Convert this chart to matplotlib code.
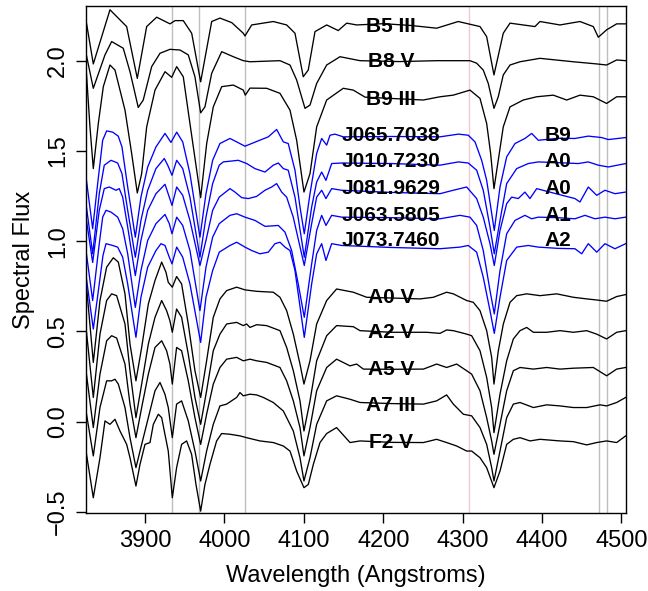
import matplotlib
matplotlib.use("Agg")
import matplotlib.pyplot as plt

plt.rcParams["font.family"] = ["Liberation Sans", "DejaVu Sans"]

# reference line positions (Angstroms)
grey_lines = [3933.7, 3968.5, 4026.2, 4471.5, 4481.2]
pink_line = 4308.0

# ---- standards, top group (black) ----
b5iii_wl = [3825.6, 3834.8, 3855.8, 3876.8, 3890.2, 3902.0, 3914.6, 3931.4, 3937.7, 3948.1, 3958.7, 3970.0,
            3983.9, 3994.3, 4009.1, 4023.7, 4025.8, 4034.3, 4061.5, 4078.3, 4088.8, 4099.2, 4105.5, 4114.0,
            4128.7, 4143.3, 4153.9, 4166.5, 4200.0, 4235.0, 4267.2, 4294.4, 4321.8, 4330.2, 4339.4, 4351.1,
            4359.6, 4391.0, 4397.3, 4422.5, 4447.7, 4464.5, 4470.8, 4481.3, 4493.9, 4505.3]
b5iii_fx = [2.224, 1.982, 2.282, 2.189, 1.902, 2.189, 2.241, 2.204, 2.222, 2.222, 2.152, 1.883,
            2.217, 2.236, 2.211, 2.152, 2.137, 2.198, 2.217, 2.198, 2.152, 1.911, 1.948, 2.161,
            2.198, 2.167, 2.208, 2.198, 2.205, 2.195, 2.18, 2.217, 2.189, 2.133, 1.921, 2.152,
            2.208, 2.189, 2.217, 2.198, 2.217, 2.189, 2.13, 2.171, 2.204, 2.204]

b8v_wl = [3825.6, 3834.8, 3849.5, 3857.9, 3872.5, 3881.0, 3891.4, 3897.7, 3908.3, 3918.8, 3931.4, 3944.0,
          3954.4, 3962.8, 3970.0, 3975.4, 3983.9, 3996.5, 4011.1, 4023.7, 4032.1, 4069.9, 4082.5, 4090.9,
          4101.4, 4107.7, 4116.1, 4128.7, 4145.5, 4170.7, 4220.0, 4267.2, 4309.2, 4317.6, 4325.9, 4332.2,
          4339.4, 4344.8, 4351.1, 4359.6, 4372.1, 4397.3, 4439.3, 4468.8, 4481.3, 4493.9, 4505.3]
b8v_fx = [2.041, 1.847, 2.032, 2.106, 2.069, 1.939, 1.741, 1.782, 1.967, 2.041, 2.063, 2.059,
          2.032, 1.911, 1.711, 1.744, 1.930, 2.050, 2.022, 2.0, 1.994, 2.0, 1.976, 1.893,
          1.736, 1.754, 1.874, 1.976, 2.022, 2.0, 1.995, 2.0, 2.0, 1.986, 1.948, 1.874,
          1.736, 1.8, 1.921, 1.976, 1.994, 2.013, 1.994, 1.982, 1.976, 2.004, 2.0]

b9iii_wl = [3825.6, 3830.6, 3834.8, 3841.1, 3847.4, 3855.8, 3862.1, 3874.7, 3883.1, 3890.2, 3895.7, 3902.0,
            3912.5, 3925.1, 3933.5, 3939.8, 3948.1, 3956.5, 3970.0, 3977.6, 3985.9, 3996.5, 4011.1, 4023.7,
            4026.2, 4032.1, 4053.1, 4069.9, 4082.5, 4090.9, 4100.1, 4107.7, 4116.1, 4128.7, 4149.6, 4162.2,
            4177.0, 4250.4, 4271.4, 4288.1, 4309.2, 4321.8, 4330.2, 4335.2, 4339.4, 4344.8, 4351.1, 4359.6,
            4376.3, 4393.2, 4414.1, 4431.0, 4447.7, 4464.5, 4481.3, 4493.9, 4505.3]
b9iii_fx = [1.967, 1.633, 1.402, 1.652, 1.856, 1.976, 1.948, 1.726, 1.486, 1.267, 1.374, 1.633,
            1.837, 1.939, 1.908, 1.967, 1.911, 1.652, 1.241, 1.541, 1.744, 1.856, 1.865, 1.837,
            1.809, 1.848, 1.847, 1.819, 1.726, 1.559, 1.272, 1.374, 1.633, 1.782, 1.847, 1.837,
            1.798, 1.782, 1.8, 1.809, 1.837, 1.791, 1.652, 1.486, 1.291, 1.448, 1.633, 1.744,
            1.782, 1.8, 1.809, 1.782, 1.809, 1.8, 1.763, 1.8, 1.8]

# ---- program stars (blue) ----
j0657038_wl = [3825.6, 3834.0, 3840.3, 3846.6, 3851.6, 3859.2, 3866.2, 3870.9, 3878.1, 3887.7, 3894.8, 3903.3,
               3913.7, 3925.1, 3932.6, 3939.8, 3947.4, 3956.5, 3969.1, 3976.7, 3985.1, 3994.3, 4006.9, 4015.4,
               4025.8, 4042.6, 4055.2, 4065.7, 4074.1, 4080.3, 4088.8, 4095.1, 4100.5, 4107.7, 4116.1, 4122.4,
               4128.7, 4132.9, 4139.2, 4149.6, 4210.0, 4271.4, 4294.5, 4307.0, 4315.5, 4323.9, 4330.2, 4339.8,
               4347.0, 4355.4, 4365.9, 4378.4, 4386.9, 4395.2, 4420.0, 4441.4, 4458.2, 4475.0, 4483.4, 4505.3]
j0657038_fx = [1.356, 1.069, 1.319, 1.559, 1.611, 1.604, 1.582, 1.522, 1.3, 1.022, 1.244, 1.411,
               1.522, 1.597, 1.547, 1.604, 1.55, 1.374, 1.022, 1.263, 1.448, 1.541, 1.569, 1.55,
               1.526, 1.556, 1.578, 1.619, 1.55, 1.541, 1.393, 1.189, 1.041, 1.263, 1.486, 1.569,
               1.532, 1.587, 1.593, 1.578, 1.58, 1.578, 1.593, 1.587, 1.55, 1.448, 1.337, 1.059,
               1.3, 1.467, 1.541, 1.569, 1.597, 1.559, 1.57, 1.569, 1.582, 1.574, 1.563, 1.574]

j0107230_wl = [3825.6, 3834.0, 3842.3, 3848.6, 3857.1, 3865.5, 3870.9, 3878.1, 3887.7, 3894.8, 3903.3, 3913.7,
               3924.2, 3928.5, 3933.9, 3939.8, 3947.4, 3956.5, 3969.1, 3976.7, 3985.1, 3993.4, 3998.5, 4017.4,
               4028.0, 4038.4, 4051.0, 4061.5, 4067.8, 4074.1, 4080.3, 4088.8, 4100.5, 4109.8, 4116.1, 4122.4,
               4127.8, 4135.0, 4147.6, 4210.0, 4271.4, 4294.5, 4307.0, 4317.6, 4325.9, 4334.4, 4339.8, 4347.0,
               4355.4, 4368.0, 4382.6, 4395.2, 4420.0, 4445.6, 4458.2, 4470.8, 4483.4, 4505.3]
j0107230_fx = [1.208, 0.930, 1.263, 1.421, 1.448, 1.433, 1.374, 1.171, 0.911, 1.115, 1.282, 1.402,
               1.458, 1.421, 1.365, 1.448, 1.402, 1.244, 0.911, 1.133, 1.319, 1.421, 1.439, 1.448,
               1.43, 1.402, 1.383, 1.421, 1.433, 1.402, 1.393, 1.244, 0.911, 1.189, 1.328, 1.383,
               1.337, 1.43, 1.433, 1.43, 1.421, 1.439, 1.433, 1.393, 1.282, 1.078, 0.93, 1.115,
               1.319, 1.402, 1.43, 1.439, 1.435, 1.43, 1.439, 1.421, 1.411, 1.43]

j0819629_wl = [3825.6, 3834.0, 3842.3, 3848.6, 3854.9, 3863.4, 3867.5, 3871.8, 3878.1, 3887.7, 3894.8, 3903.3,
               3913.7, 3925.1, 3930.5, 3933.9, 3939.8, 3947.4, 3956.5, 3969.1, 3976.7, 3985.1, 3993.4, 4006.9,
               4013.2, 4021.7, 4030.0, 4040.5, 4051.0, 4059.4, 4065.7, 4072.0, 4078.3, 4086.6, 4100.5, 4109.8,
               4116.1, 4122.4, 4127.8, 4135.0, 4147.6, 4210.0, 4271.4, 4288.1, 4305.0, 4317.6, 4325.9, 4334.4,
               4339.8, 4347.0, 4355.4, 4361.7, 4370.0, 4378.4, 4384.7, 4393.2, 4420.0, 4441.4, 4447.7, 4458.2,
               4468.8, 4479.2, 4491.8, 4505.3]
j0819629_fx = [1.133, 0.882, 1.171, 1.291, 1.3, 1.282, 1.291, 1.244, 1.078, 0.809, 1.004, 1.171,
               1.263, 1.315, 1.244, 1.198, 1.3, 1.254, 1.115, 0.865, 1.004, 1.171, 1.244, 1.291,
               1.272, 1.241, 1.236, 1.248, 1.282, 1.3, 1.319, 1.272, 1.244, 1.133, 0.865, 1.097,
               1.244, 1.282, 1.236, 1.291, 1.282, 1.27, 1.263, 1.282, 1.3, 1.236, 1.133, 0.986,
               0.865, 1.059, 1.208, 1.244, 1.236, 1.272, 1.236, 1.291, 1.26, 1.236, 1.217, 1.3,
               1.254, 1.282, 1.263, 1.272]

j0635805_wl = [3825.6, 3834.0, 3842.3, 3846.6, 3850.8, 3857.1, 3865.5, 3871.8, 3878.1, 3887.7, 3894.8, 3903.3,
               3913.7, 3925.1, 3930.5, 3933.9, 3939.8, 3947.4, 3956.5, 3969.1, 3976.7, 3985.1, 3993.4, 4006.9,
               4015.4, 4025.8, 4038.4, 4051.0, 4067.8, 4076.2, 4084.6, 4092.9, 4100.5, 4109.8, 4116.1, 4122.4,
               4127.8, 4135.0, 4147.6, 4210.0, 4271.4, 4296.6, 4309.2, 4317.6, 4325.9, 4334.4, 4339.8, 4347.0,
               4355.4, 4365.9, 4378.4, 4386.9, 4395.2, 4420.0, 4441.4, 4454.0, 4466.6, 4479.2, 4491.8, 4505.3]
j0635805_fx = [0.948, 0.671, 0.986, 1.133, 1.171, 1.161, 1.133, 1.069, 0.93, 0.633, 0.837, 1.004,
               1.097, 1.148, 1.097, 1.041, 1.133, 1.087, 0.948, 0.615, 0.856, 1.022, 1.097, 1.143,
               1.152, 1.133, 1.115, 1.082, 1.087, 1.05, 0.948, 0.763, 0.578, 0.874, 1.059, 1.143,
               1.087, 1.143, 1.133, 1.13, 1.124, 1.143, 1.133, 1.087, 0.948, 0.726, 0.597, 0.837,
               1.041, 1.115, 1.143, 1.124, 1.133, 1.13, 1.124, 1.143, 1.124, 1.133, 1.124, 1.133]

j0737460_wl = [3825.6, 3834.8, 3842.3, 3847.0, 3850.8, 3859.2, 3865.5, 3871.8, 3878.1, 3888.5, 3894.8, 3903.3,
               3913.7, 3920.0, 3925.1, 3930.5, 3933.9, 3939.8, 3947.4, 3956.5, 3970.0, 3976.7, 3985.1, 3993.4,
               4006.9, 4015.4, 4025.8, 4034.3, 4044.7, 4055.2, 4063.6, 4069.9, 4076.2, 4082.5, 4088.8, 4100.5,
               4109.8, 4116.1, 4122.4, 4127.8, 4135.0, 4147.6, 4210.0, 4271.4, 4296.6, 4307.0, 4317.6, 4325.9,
               4334.4, 4339.8, 4347.0, 4355.4, 4368.0, 4382.6, 4395.2, 4420.0, 4441.4, 4449.9, 4458.2, 4468.8,
               4479.2, 4491.8, 4505.3]
j0737460_fx = [0.81, 0.513, 0.763, 0.921, 0.986, 0.976, 0.967, 0.911, 0.763, 0.467, 0.689, 0.856,
               0.948, 0.986, 0.976, 0.911, 0.874, 0.967, 0.911, 0.763, 0.439, 0.689, 0.837, 0.939,
               0.976, 0.994, 0.967, 0.948, 0.93, 0.939, 0.986, 0.994, 0.967, 0.948, 0.837, 0.467,
               0.763, 0.93, 0.986, 0.893, 0.986, 0.976, 0.965, 0.958, 0.967, 0.976, 0.939, 0.8,
               0.615, 0.489, 0.689, 0.893, 0.967, 0.976, 0.967, 0.96, 0.958, 0.93, 0.986, 0.939,
               0.986, 0.958, 0.986]

# ---- standards, bottom group (black) ----
a0v_wl = [3825.6, 3834.8, 3843.2, 3851.6, 3860.0, 3866.3, 3874.7, 3881.0, 3888.5, 3895.7, 3904.1, 3912.5,
          3920.9, 3926.3, 3929.2, 3934.3, 3939.7, 3946.0, 3954.4, 3962.8, 3970.0, 3977.5, 3985.9, 3994.3,
          4002.7, 4015.3, 4025.8, 4040.5, 4061.5, 4069.9, 4078.3, 4086.7, 4095.1, 4100.1, 4107.7, 4116.1,
          4128.7, 4141.2, 4162.3, 4179.1, 4210.0, 4246.3, 4263.0, 4279.8, 4288.2, 4305.0, 4313.4, 4321.8,
          4330.2, 4336.5, 4339.4, 4344.9, 4351.2, 4359.6, 4368.0, 4380.6, 4397.4, 4418.4, 4439.4, 4456.2,
          4468.7, 4481.3, 4493.9, 4505.3]
a0v_fx = [0.782, 0.328, 0.671, 0.856, 0.908, 0.884, 0.708, 0.430, 0.226, 0.411, 0.652, 0.782,
          0.884, 0.828, 0.772, 0.745, 0.804, 0.763, 0.541, 0.282, 0.134, 0.337, 0.578, 0.680,
          0.726, 0.745, 0.730, 0.722, 0.717, 0.689, 0.615, 0.485, 0.319, 0.208, 0.337, 0.541,
          0.671, 0.735, 0.717, 0.689, 0.685, 0.680, 0.689, 0.717, 0.708, 0.671, 0.661, 0.615,
          0.504, 0.356, 0.208, 0.393, 0.541, 0.661, 0.698, 0.708, 0.698, 0.708, 0.689, 0.680,
          0.674, 0.667, 0.693, 0.704]

a2v_wl = [3825.6, 3834.8, 3843.2, 3851.6, 3857.9, 3864.2, 3874.7, 3881.0, 3888.5, 3895.7, 3904.1, 3912.5,
          3920.9, 3927.1, 3931.3, 3934.3, 3939.7, 3946.0, 3954.4, 3962.8, 3970.0, 3977.5, 3985.9, 3994.3,
          4002.7, 4015.3, 4023.7, 4027.9, 4032.1, 4040.5, 4053.1, 4069.9, 4078.3, 4086.7, 4095.1, 4100.1,
          4107.7, 4116.1, 4128.7, 4141.2, 4162.3, 4170.7, 4210.0, 4254.7, 4271.4, 4279.8, 4288.2, 4305.0,
          4311.3, 4321.8, 4330.2, 4336.5, 4339.4, 4347.0, 4355.4, 4363.8, 4372.2, 4380.6, 4389.0, 4405.8,
          4422.6, 4439.4, 4456.2, 4468.7, 4481.3, 4493.9, 4505.3]
a2v_fx = [0.522, 0.134, 0.485, 0.671, 0.708, 0.698, 0.541, 0.282, 0.022, 0.208, 0.430, 0.578,
          0.671, 0.615, 0.559, 0.495, 0.624, 0.578, 0.374, 0.134, -0.015, 0.171, 0.393, 0.485,
          0.541, 0.550, 0.532, 0.541, 0.522, 0.537, 0.532, 0.504, 0.411, 0.282, 0.115, -0.052,
          0.115, 0.337, 0.476, 0.532, 0.526, 0.504, 0.495, 0.495, 0.489, 0.508, 0.504, 0.485,
          0.476, 0.393, 0.245, 0.078, -0.061, 0.152, 0.337, 0.458, 0.504, 0.522, 0.495, 0.495,
          0.504, 0.495, 0.504, 0.485, 0.458, 0.495, 0.504]

a5v_wl = [3825.6, 3834.8, 3843.2, 3851.6, 3857.9, 3864.2, 3874.7, 3881.0, 3888.5, 3895.7, 3904.1, 3912.5,
          3920.9, 3927.1, 3931.3, 3934.3, 3939.7, 3946.0, 3954.4, 3962.8, 3970.0, 3977.5, 3985.9, 3994.3,
          4002.7, 4015.3, 4023.7, 4032.1, 4040.5, 4053.1, 4069.9, 4078.3, 4086.7, 4095.1, 4100.1, 4107.7,
          4116.1, 4128.7, 4141.2, 4158.1, 4166.5, 4174.9, 4210.0, 4250.5, 4267.2, 4279.8, 4292.4, 4305.0,
          4311.3, 4321.8, 4330.2, 4336.5, 4339.4, 4347.0, 4355.4, 4363.8, 4372.2, 4389.0, 4405.8, 4422.6,
          4439.4, 4464.5, 4481.3, 4493.9, 4505.3]
a5v_fx = [0.282, -0.033, 0.263, 0.448, 0.476, 0.463, 0.319, 0.097, -0.089, 0.078, 0.263, 0.411,
          0.448, 0.393, 0.319, 0.208, 0.411, 0.393, 0.226, 0.022, -0.126, 0.041, 0.208, 0.300,
          0.346, 0.356, 0.337, 0.346, 0.337, 0.328, 0.300, 0.226, 0.115, -0.033, -0.190, -0.033,
          0.171, 0.300, 0.346, 0.309, 0.319, 0.291, 0.29, 0.291, 0.319, 0.300, 0.319, 0.282,
          0.263, 0.171, 0.022, -0.107, -0.181, -0.015, 0.171, 0.282, 0.300, 0.291, 0.300, 0.291,
          0.296, 0.300, 0.254, 0.291, 0.300]

a7iii_wl = [3825.6, 3834.8, 3843.2, 3851.6, 3857.9, 3862.1, 3866.3, 3874.7, 3881.0, 3888.5, 3895.7, 3904.1,
            3912.5, 3918.8, 3925.0, 3929.2, 3934.3, 3939.7, 3946.0, 3954.4, 3962.8, 3970.0, 3977.5, 3985.9,
            3994.3, 4002.7, 4015.3, 4019.5, 4023.7, 4032.1, 4040.5, 4048.9, 4061.5, 4074.1, 4086.7, 4095.1,
            4100.1, 4107.7, 4116.1, 4128.7, 4141.2, 4158.1, 4170.7, 4210.0, 4250.5, 4267.2, 4279.8, 4288.2,
            4300.8, 4311.3, 4321.8, 4330.2, 4336.5, 4339.4, 4347.0, 4355.4, 4363.8, 4372.2, 4389.0, 4405.8,
            4422.6, 4439.4, 4456.2, 4472.9, 4481.3, 4493.9, 4505.3]
a7iii_fx = [0.059, -0.190, 0.078, 0.226, 0.226, 0.235, 0.208, 0.078, -0.089, -0.255, -0.126, 0.022,
            0.171, 0.217, 0.152, 0.078, -0.089, 0.097, 0.115, 0.004, -0.163, -0.329, -0.163, -0.015,
            0.087, 0.097, 0.134, 0.161, 0.143, 0.152, 0.148, 0.134, 0.106, 0.059, -0.052, -0.200,
            -0.329, -0.200, -0.015, 0.115, 0.143, 0.124, 0.106, 0.10, 0.097, 0.115, 0.148, 0.097,
            0.041, 0.032, -0.033, -0.126, -0.255, -0.329, -0.163, 0.022, 0.097, 0.106, 0.078, 0.093,
            0.087, 0.078, 0.078, 0.093, 0.087, 0.106, 0.134]

f2v_wl = [3825.6, 3834.8, 3843.2, 3849.5, 3855.8, 3862.1, 3868.4, 3876.8, 3881.0, 3888.5, 3893.6, 3899.9,
          3906.2, 3910.4, 3916.7, 3920.9, 3925.0, 3929.2, 3934.3, 3939.7, 3946.0, 3952.3, 3958.6, 3964.1,
          3970.0, 3975.4, 3981.7, 3990.1, 3996.4, 4006.9, 4019.5, 4027.9, 4036.3, 4044.7, 4061.5, 4074.1,
          4082.5, 4090.9, 4100.1, 4105.6, 4111.9, 4120.3, 4128.7, 4141.2, 4158.1, 4170.7, 4210.0, 4250.5,
          4267.2, 4279.8, 4292.4, 4305.0, 4311.3, 4321.8, 4330.2, 4339.4, 4347.0, 4355.4, 4363.8, 4372.2,
          4384.8, 4397.4, 4422.6, 4439.4, 4456.2, 4468.7, 4481.3, 4493.9, 4505.3]
f2v_fx = [-0.163, -0.422, -0.200, 0.004, -0.015, 0.013, -0.052, -0.126, -0.200, -0.357, -0.237, -0.126,
          -0.116, -0.015, 0.041, 0.022, -0.070, -0.163, -0.422, -0.255, -0.126, -0.107, -0.181, -0.348,
          -0.496, -0.348, -0.237, -0.107, -0.066, -0.070, -0.079, -0.089, -0.098, -0.107, -0.116, -0.135,
          -0.163, -0.274, -0.366, -0.348, -0.237, -0.116, -0.066, -0.033, -0.116, -0.107, -0.115, -0.116,
          -0.098, -0.116, -0.135, -0.163, -0.163, -0.200, -0.255, -0.366, -0.274, -0.126, -0.098, -0.089,
          -0.107, -0.098, -0.107, -0.111, -0.129, -0.116, -0.107, -0.116, -0.079]

black_spectra = [(b5iii_wl, b5iii_fx), (b8v_wl, b8v_fx), (b9iii_wl, b9iii_fx),
                 (a0v_wl, a0v_fx), (a2v_wl, a2v_fx), (a5v_wl, a5v_fx),
                 (a7iii_wl, a7iii_fx), (f2v_wl, f2v_fx)]
blue_spectra = [(j0657038_wl, j0657038_fx), (j0107230_wl, j0107230_fx), (j0819629_wl, j0819629_fx),
                (j0635805_wl, j0635805_fx), (j0737460_wl, j0737460_fx)]

# labels: standards and program stars (name, fitted type)
std_names = ["B5 III", "B8 V", "B9 III", "A0 V", "A2 V", "A5 V", "A7 III", "F2 V"]
std_label_y = [2.189, 1.994, 1.786, 0.689, 0.494, 0.291, 0.087, -0.117]
star_names = ["J065.7038", "J010.7230", "J081.9629", "J063.5805", "J073.7460"]
star_types = ["B9", "A0", "A0", "A1", "A2"]
star_label_y = [1.587, 1.439, 1.291, 1.143, 1.004]

fig = plt.figure(figsize=(6.48, 5.91), dpi=100)
ax = fig.add_axes([86 / 648, (591 - 513.3) / 591, (625.7 - 86) / 648, (513.3 - 6) / 591])

for x in grey_lines:
    ax.axvline(x, color="#bebebe", lw=1.0, zorder=1)
ax.axvline(pink_line, color="#f0c8d0", lw=1.0, zorder=1)

for wl, fx in black_spectra:
    ax.plot(wl, fx, color="black", lw=0.95, zorder=2)
for wl, fx in blue_spectra:
    ax.plot(wl, fx, color="#0000ff", lw=0.95, zorder=2)

for name, y in zip(std_names, std_label_y):
    ax.text(4210, y, name, ha="center", va="center", fontsize=15, fontweight="bold", zorder=3)
for name, t, y in zip(star_names, star_types, star_label_y):
    ax.text(4210, y, name, ha="center", va="center", fontsize=15, fontweight="bold", zorder=3)
    ax.text(4420, y, t, ha="center", va="center", fontsize=15, fontweight="bold", zorder=3)

ax.set_xlim(3825.6, 4505.3)
ax.set_ylim(-0.508, 2.303)
ax.set_xticks([3900, 4000, 4100, 4200, 4300, 4400, 4500])
ax.set_xticklabels(["3900", "4000", "4100", "4200", "4300", "4400", "4500"])
ax.set_yticks([-0.5, 0.0, 0.5, 1.0, 1.5, 2.0])
ax.set_yticklabels(["\u22120.5", "0.0", "0.5", "1.0", "1.5", "2.0"], rotation=90, va="center")
ax.tick_params(direction="out", length=7.2, width=1, labelsize=17, pad=5)
for s in ax.spines.values():
    s.set_linewidth(1)
ax.set_xlabel("Wavelength (Angstroms)", fontsize=17, labelpad=9)
ax.set_ylabel("Spectral Flux", fontsize=17, labelpad=9)

fig.savefig("out.png", dpi=100)
